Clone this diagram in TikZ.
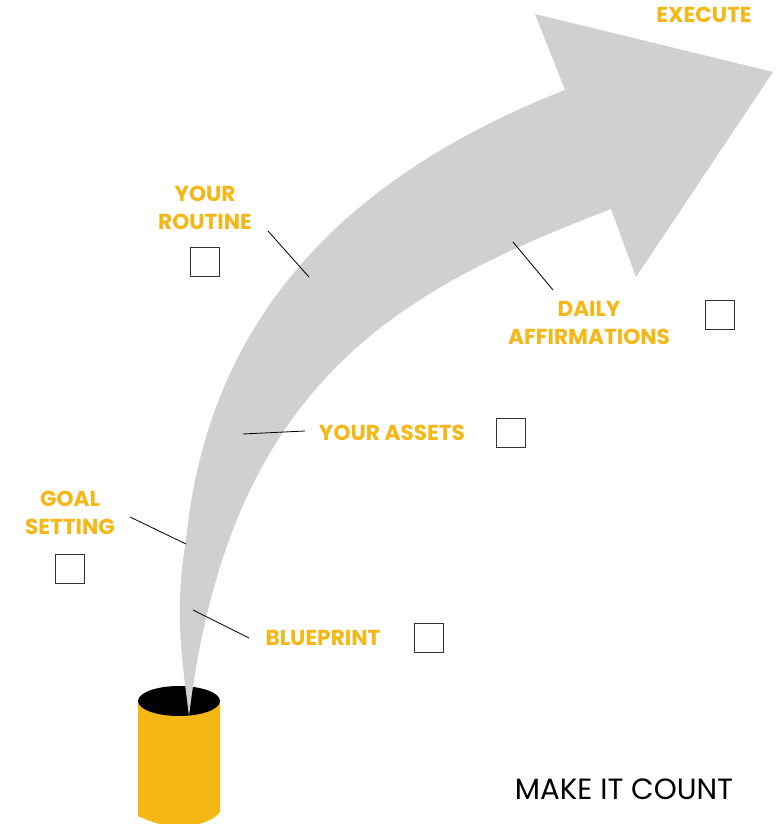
\documentclass[tikz,border=0pt]{standalone}
\usepackage{fontspec}
\setmainfont{Poppins}
\usepackage{xcolor}
\definecolor{canyellow}{HTML}{F4B716}
\definecolor{arrowgrey}{HTML}{D1CFD0}
\tikzset{
    steplabel/.style={text=canyellow,font=\fontsize{18.5}{23.5}\selectfont\bfseries,align=center,inner sep=0pt},
    tickbox/.style={draw=black!80,line width=0.7pt,minimum size=0.87cm,inner sep=0pt},
    leader/.style={draw=black,line width=0.7pt}
}
\begin{document}
\begin{tikzpicture}[x=0.03cm,y=-0.03cm]
    \useasboundingbox (0,0) rectangle (780,824);
    % can
    \fill [canyellow] (138,701) -- (138,816) .. controls (155,824) and (165,826) .. (180,826) .. controls (200,826) and (214,820) .. (220,812) -- (220,701) -- cycle;
    \fill [black] (179,701) ellipse (41 and 15);
    % arrow
    \fill [arrowgrey] (189,716) .. controls (182,660) and (174,610) .. (186,540)
        .. controls (205,350) and (310,190) .. (565,90) -- (535,14) -- (773,72) -- (636,277) -- (611,209)
        .. controls (400,290) and (230,380) .. (189,716) -- cycle;
    % labels
    \node (execute) at (704,15) [steplabel] {EXECUTE};
    \node (routine) at (205,208) [steplabel] {YOUR\\ROUTINE};
    \node (daily) at (589,323) [steplabel] {DAILY\\AFFIRMATIONS};
    \node (assets) at (392,433) [steplabel] {YOUR ASSETS};
    \node (goal) at (70,513) [steplabel] {GOAL\\SETTING};
    \node (blueprint) at (323,638) [steplabel] {BLUEPRINT};
    \node (count) at (624,789) [font=\fontsize{25}{30}\selectfont,inner sep=0pt] {MAKE IT COUNT};
    % boxes
    \foreach \name/\x/\y in {routinebox/205/262,dailybox/720/315,assetsbox/511/433,goalbox/70/569,blueprintbox/429/638}
    {
    \node (\name) at (\x,\y) [tickbox] {};
    }
    % leaders
    \coordinate (routineend) at (309,277);
    \coordinate (dailyend) at (513,242);
    \coordinate (assetsend) at (243,434);
    \coordinate (goalend) at (186,544);
    \coordinate (blueprintend) at (193,610);
    \coordinate (routinestart) at (268,231);
    \coordinate (dailystart) at (553,290);
    \coordinate (assetsstart) at (305,431);
    \coordinate (goalstart) at (130,517);
    \coordinate (blueprintstart) at (249,638);
    \foreach \i in {routine,daily,assets,goal,blueprint}
    {
    \draw [leader] (\i start) -- (\i end);
    }
\end{tikzpicture}
\end{document}
